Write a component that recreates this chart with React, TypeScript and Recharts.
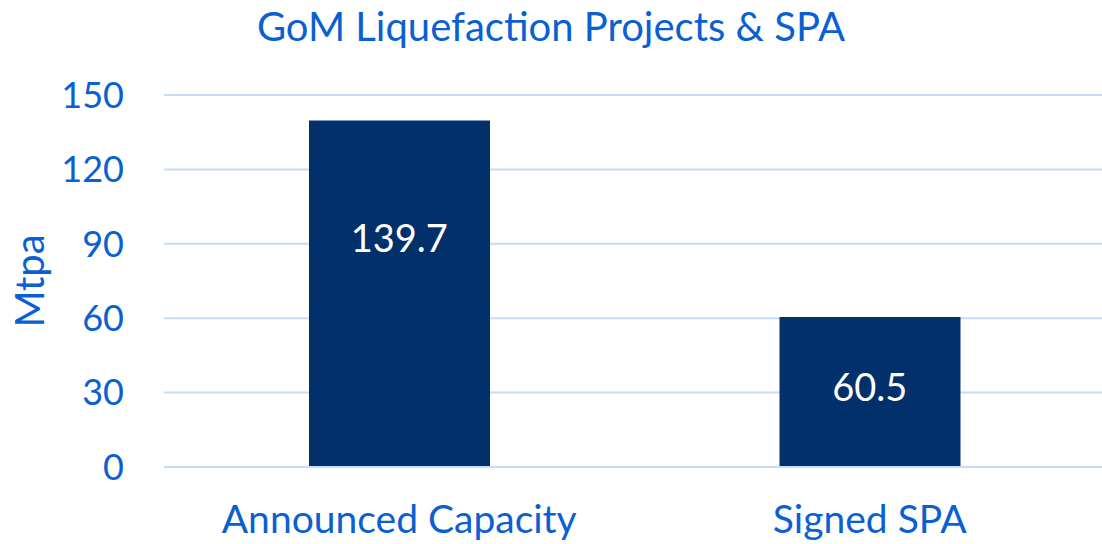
import React from 'react';
import { BarChart, Bar, XAxis, YAxis, CartesianGrid, ReferenceDot, Label } from 'recharts';

const categories = ['Announced Capacity', 'Signed SPA'];
const values = [139.7, 60.5];
const labelAnchors = [92, 32];
const yTicks = [0, 30, 60, 90, 120, 150];

const data = categories.map((c, i) => ({ name: c, value: values[i] }));

const BLUE = '#0A60D2';
const BAR = '#02306B';
const GRID = '#C6DCF8';
const FONT = 'Lato, "Open Sans", sans-serif';

export default function App() {
  return (
    <div style={{ position: 'absolute', left: 0, top: 0, width: 1102, height: 544, overflow: 'hidden', background: '#fff', fontFamily: FONT }}>
      <div style={{ position: 'absolute', left: 0, top: 2, width: 1102, textAlign: 'center', color: BLUE, fontSize: 40, lineHeight: '48px', fontFamily: FONT }}>
        GoM Liquefaction Projects &amp; SPA
      </div>
      <BarChart width={1105} height={544} data={data} margin={{ top: 95, right: 0, bottom: 0, left: 0 }}>
        <CartesianGrid vertical={false} stroke={GRID} strokeWidth={2} />
        <XAxis dataKey="name" height={77} tickLine={false} axisLine={{ stroke: GRID, strokeWidth: 2 }} tickSize={0} tickMargin={38}
          tick={{ fill: BLUE, fontSize: 39, fontFamily: FONT }} interval={0} />
        <YAxis width={164} domain={[0, 150]} ticks={yTicks} tickLine={false} axisLine={false} tickSize={0} tickMargin={40}
          tick={{ fill: BLUE, fontSize: 36, fontFamily: FONT }}>
          <Label value="Mtpa" angle={-90} position="center" dx={-52} style={{ fill: BLUE, fontSize: 40, fontFamily: FONT }} />
        </YAxis>
        <Bar dataKey="value" fill={BAR} barSize={181} isAnimationActive={false} />
        {categories.map((c, i) => (
          <ReferenceDot key={c} x={c} y={labelAnchors[i]} r={0} stroke="none" fill="none" ifOverflow="visible">
            <Label value={String(values[i])} position="center" style={{ fill: '#fff', fontSize: 38, fontFamily: FONT }} />
          </ReferenceDot>
        ))}
      </BarChart>
    </div>
  );
}
